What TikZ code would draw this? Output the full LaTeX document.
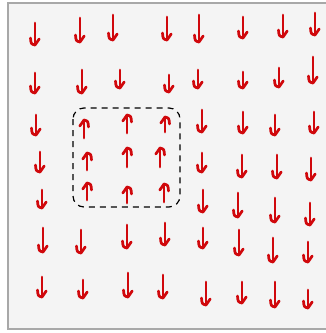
\documentclass[tikz,border=0pt]{standalone}
\definecolor{spinred}{RGB}{208,8,12}
\definecolor{framefill}{RGB}{244,244,244}
\definecolor{framegrey}{RGB}{168,168,168}
\tikzset{
  spinline/.style={draw=spinred, line width=2.7pt, line cap=round, line join=round},
  domainbox/.style={draw=black, line width=1.2pt, dash pattern=on 6pt off 5pt, rounded corners=11pt},
}
\newcommand\spinD[3]{%
  \draw[spinline] (#1,#2) -- (#1,#3);
  \draw[spinline] (#1-4.5,#3-7) .. controls (#1-4,#3-1) .. (#1,#3) -- (#1+4.2,#3-6);
}
\newcommand\spinU[3]{%
  \draw[spinline] (#1,#3) -- (#1,#2);
  \draw[spinline] (#1-4.2,#2+6) -- (#1,#2) .. controls (#1+4,#2+1) .. (#1+4.5,#2+7);
}
\begin{document}
\begin{tikzpicture}[x=1pt,y=-1pt]
\useasboundingbox (0,0) rectangle (325,333);
\fill[white] (0,0) rectangle (325,333);
\draw[fill=framefill, draw=framegrey, line width=2pt] (8,3) rectangle (330,329);
% row 1
\spinD{35}{23}{45}\spinD{80}{18}{42}\spinD{113}{15}{40}\spinD{167}{17}{40}
\spinD{199}{15}{42}\spinD{243}{17}{38}\spinD{283}{15}{37}\spinD{315}{13}{35}
% row 2
\spinD{35}{73}{93}\spinD{82}{70}{93}\spinD{120}{70}{88}\spinD{169}{75}{92}
\spinD{198}{70}{88}\spinD{243}{72}{88}\spinD{279}{68}{87}\spinD{313}{57}{83}
% row 3
\spinD{36}{115}{135}\spinU{84}{120}{138}\spinU{127}{115}{133}\spinU{165}{117}{132}
\spinD{202}{110}{132}\spinD{243}{112}{133}\spinD{275}{115}{135}\spinD{314}{112}{133}
% row 4
\spinD{40}{152}{172}\spinU{87}{153}{170}\spinU{127}{148}{167}\spinU{160}{148}{167}
\spinD{202}{153}{172}\spinD{242}{155}{177}\spinD{277}{155}{178}\spinD{311}{158}{180}
% row 5
\spinD{42}{190}{208}\spinU{87}{183}{200}\spinU{127}{187}{203}\spinU{164}{184}{202}
\spinD{203}{190}{212}\spinD{238}{193}{217}\spinD{275}{198}{222}\spinD{310}{203}{225}
% row 6
\spinD{43}{228}{252}\spinD{81}{230}{253}\spinD{127}{225}{248}\spinD{165}{223}{245}
\spinD{203}{228}{248}\spinD{239}{230}{255}\spinD{273}{238}{262}\spinD{308}{242}{262}
% row 7
\spinD{42}{277}{297}\spinD{83}{280}{298}\spinD{128}{273}{297}\spinD{163}{275}{298}
\spinD{206}{282}{305}\spinD{242}{282}{303}\spinD{275}{282}{307}\spinD{308}{290}{308}
% domain
\draw[domainbox] (73,108) rectangle (180,207);
\end{tikzpicture}
\end{document}
